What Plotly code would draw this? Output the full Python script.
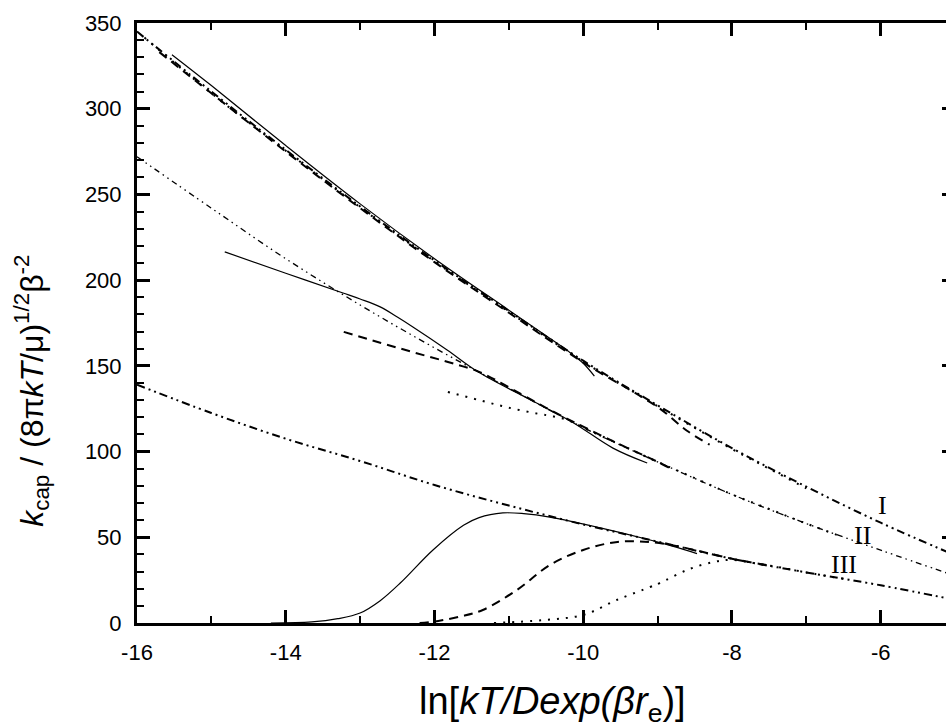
import plotly.graph_objects as go

# Reference curves I, II, III (dash-dot-dot)
ref_x = [-16, -15, -14, -13, -12, -11, -10, -9, -8, -7, -6, -5]
curve_I = [345, 310, 276, 243, 211.5, 182, 153, 127, 102, 79.5, 58.5, 39.5]
curve_II = [272, 242, 212.5, 185.5, 160.5, 137, 114, 94, 75, 58, 42.5, 27.5]
curve_III = [139, 122.5, 107.5, 94.5, 80.5, 68.5, 57.5, 47.5, 37.5, 29.5, 22, 13.5]

# Upper family
s1_x = [-15.53, -15, -14, -13, -12, -11, -10.5, -10.2, -10.0, -9.85]
s1_y = [331.5, 313.5, 278.5, 244.5, 212.5, 182.5, 167.5, 158.5, 151.5, 144]
d1_x = [-15.7, -15, -14, -13, -12, -11, -10, -9, -8.6, -8.3]
d1_y = [333, 309, 275, 242, 210.5, 181, 152, 126, 112, 104]
p1_x = [-15.9, -15, -14, -13, -12, -11, -10, -9, -8, -7.5, -7.0]
p1_y = [341.5, 309, 275.5, 242.5, 211, 181.5, 152.5, 126.5, 101.5, 90, 78.5]

# Middle family
s2_x = [-14.82, -14, -13.23, -13.0, -12.73, -12.5, -12.29, -11.83, -11.41, -10.71, -10.14, -9.6, -9.14]
s2_y = [216.5, 204, 192.5, 189, 184.4, 178.5, 172.7, 159.3, 146.4, 130.2, 117, 102, 93.3]
d2_x = [-13.22, -12.73, -12.29, -11.83, -11.4, -11.0, -10.5, -10.0, -9.5, -9.0, -8.8]
d2_y = [169.8, 163.5, 158, 152.4, 146.5, 137.5, 125.5, 114.5, 104, 94, 89.5]
p2_x = [-11.82, -11.4, -11.0, -10.6, -10.4, -10.2, -10, -9.5, -9, -8.5, -8, -7.5, -7, -6.5]
p2_y = [134.8, 130, 125.6, 122, 120.5, 118.3, 114, 104, 94, 84.5, 75, 66.5, 58, 50]

# Lower family
s3_x = [-14.2, -13.65, -13.3, -13.0, -12.73, -12.46, -12.02, -11.61, -11.4, -11.08, -10.8, -10.45,
        -9.77, -9.1, -8.8, -8.47]
s3_y = [0, 0.6, 2.5, 5.8, 13, 23.3, 42.6, 57, 61.5, 64.2, 63.8, 61.8, 55.5, 48.4, 44.8, 40.5]
d3_x = [-12.2, -11.95, -11.65, -11.35, -10.89, -10.45, -10.0, -9.54, -9.1, -8.7, -8.3, -8.0, -7.5]
d3_y = [0, 1.2, 3.8, 7.6, 19.3, 33.8, 42.6, 47.3, 47.2, 44.5, 40.5, 37.5, 33.5]
p3_x = [-11.2, -10.54, -10.0, -9.55, -9.1, -8.97, -8.6, -8.25, -8.02, -7.71, -7.4, -7.0, -6.5]
p3_y = [0, 1.7, 4.7, 13.4, 21, 23.3, 31, 35.6, 36.8, 35, 32.8, 29.5, 25.8]

# Curve labels
label_text = ["I", "II", "III"]
label_x = [-5.97, -6.25, -6.5]
label_y = [68.3, 51.3, 34.4]

# Axis ticks
x_ticks = [-16, -14, -12, -10, -8, -6]
x_ticktext = ["-16", "-14", "-12", "-10", "-8", "-6"]
y_ticks = [0, 50, 100, 150, 200, 250, 300, 350]

DDOT = "8px,4px,2px,4px,2px,4px"
DDOT_THIN = "6px,4px,1.5px,4px,1.5px,4px"
DASH = "9px,6px"
DOT = "2px,7px"

fig = go.Figure()


def add(x, y, dash, width):
    fig.add_trace(go.Scatter(
        x=x, y=y, mode="lines",
        line=dict(color="black", width=width, dash=dash, shape="spline", smoothing=1.0),
        showlegend=False, hoverinfo="skip"))


add(ref_x, curve_I, DDOT, 2.0)
add(ref_x, curve_II, DDOT_THIN, 1.3)
add(ref_x, curve_III, DDOT, 2.0)

add(s1_x, s1_y, "solid", 1.2)
add(d1_x, d1_y, DASH, 2.0)
add(p1_x, p1_y, DOT, 2.0)

add(s2_x, s2_y, "solid", 1.2)
add(d2_x, d2_y, DASH, 2.0)
add(p2_x, p2_y, DOT, 2.0)

add(s3_x, s3_y, "solid", 1.2)
add(d3_x, d3_y, DASH, 2.0)
add(p3_x, p3_y, DOT, 2.0)

for t, lx, ly in zip(label_text, label_x, label_y):
    fig.add_annotation(x=lx, y=ly, text=t, showarrow=False, xanchor="center", yanchor="middle",
                       font=dict(family="Liberation Serif, Times New Roman, serif", size=26, color="black"))

tick_font = dict(family="Liberation Sans, Arial, sans-serif", size=22, color="black")

fig.add_annotation(
    xref="paper", yref="paper", x=0.513, y=-0.135, xanchor="center", yanchor="middle",
    text="ln[<i>kT/Dexp(βr</i><sub>e</sub>)]", showarrow=False,
    font=dict(family="Liberation Sans, Arial, sans-serif", size=38, color="black"))
fig.add_annotation(
    xref="paper", yref="paper", x=-0.1298, y=0.387, xanchor="center", yanchor="middle",
    textangle=-90, showarrow=False,
    font=dict(family="Liberation Sans, Arial, sans-serif", size=32, color="black"),
    text="<i>k</i><sub>cap</sub> / (8π<i>kT</i>/μ)<sup>1/2</sup>β<sup>-2</sup>")

fig.update_layout(
    width=946, height=728,
    margin=dict(l=137, r=0, t=23, b=105),
    plot_bgcolor="white", paper_bgcolor="white",
    xaxis=dict(range=[-16, -5.122], tickvals=x_ticks, ticktext=x_ticktext, ticks="inside",
               ticklen=13, tickwidth=2.5, tickcolor="black", showline=True, linecolor="black",
               linewidth=3, mirror="ticks", showgrid=False, zeroline=False, tickfont=tick_font,
               ticklabelstandoff=8,
               minor=dict(dtick=1, tick0=-16, ticks="inside", ticklen=7, tickwidth=2, tickcolor="black")),
    yaxis=dict(range=[0, 350], tickvals=y_ticks, ticks="inside", ticklen=13, tickwidth=2.5,
               tickcolor="black", showline=True, linecolor="black", linewidth=3,
               showgrid=False, zeroline=False, tickfont=tick_font, ticklabelstandoff=8,
               minor=dict(dtick=10, tick0=0, ticks="inside", ticklen=7, tickwidth=2, tickcolor="black")),
    yaxis2=dict(range=[0, 350], tickvals=y_ticks, overlaying="y", side="right", ticks="inside",
                ticklen=4, tickwidth=2.5, tickcolor="black", showline=False, showgrid=False,
                zeroline=False, showticklabels=False),
)
# invisible trace to activate the right-hand tick axis
fig.add_trace(go.Scatter(x=[-16], y=[0], yaxis="y2", mode="markers", marker=dict(opacity=0),
                         showlegend=False, hoverinfo="skip"))

fig.write_html("out.html")
